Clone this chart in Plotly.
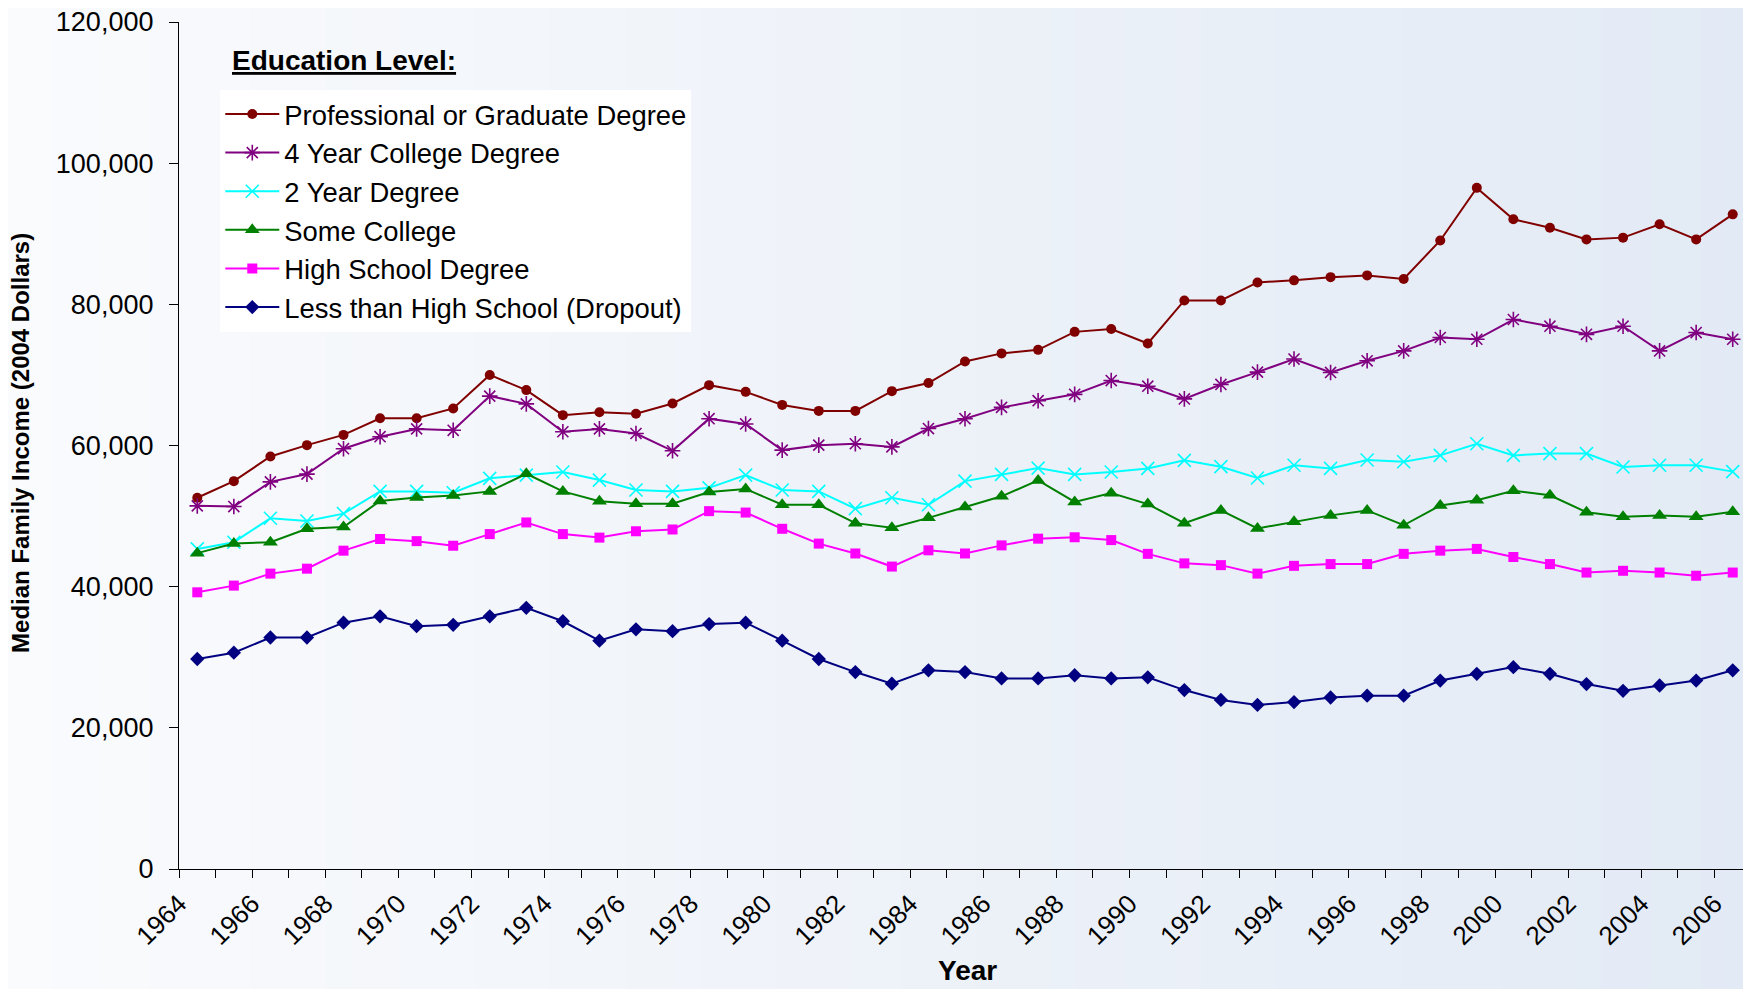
import plotly.graph_objects as go

years = list(range(1964, 2007))

prof = [52600, 54950, 58450, 60050, 61500, 63850, 63850, 65250, 70000, 67850, 64300, 64700, 64500, 65950, 68550, 67600,
        65750, 64900, 64900, 67700, 68850, 71900, 73050, 73550, 76100, 76500, 74450, 80550, 80550,
        83100, 83400, 83850, 84100, 83600, 89050, 96500, 92050, 90850, 89200, 89450, 91350, 89200, 92750]
four_year = [51450, 51350, 54850, 55950, 59550, 61250, 62350, 62150, 67000, 65900, 61950, 62350, 61700, 59250, 63800, 63050,
             59350, 60050, 60250, 59800, 62400, 63800, 65400, 66350, 67250, 69200, 68400, 66600, 68650,
             70400, 72250, 70350, 72000, 73400, 75300, 75050, 77850, 76900, 75750, 76900, 73400, 76000, 75050]
two_year = [45350, 46300, 49700, 49300, 50350, 53500, 53500, 53300, 55350, 55800, 56250, 55100, 53700, 53500, 54000, 55800,
            53700, 53500, 51050, 52600, 51600, 54950, 55900, 56800, 55900, 56250, 56750, 57900, 57000,
            55400, 57200, 56750, 57950, 57700, 58600, 60250, 58600, 58850, 58850, 56950, 57200, 57200, 56300]
some_college = [44750, 46100, 46300, 48200, 48450, 52150, 52650, 52900, 53500, 56000, 53500, 52100, 51750, 51750, 53400, 53850,
                51600, 51600, 49000, 48350, 49750, 51300, 52800, 55050, 52000, 53250, 51700, 49000, 50800,
                48250, 49200, 50100, 50800, 48700, 51500, 52250, 53600, 52950, 50550, 49900, 50100, 49900, 50600]
high_school = [39200, 40150, 41850, 42550, 45100, 46750, 46450, 45800, 47450, 49100, 47450, 46950, 47850, 48100, 50700, 50500,
               48200, 46100, 44700, 42850, 45150, 44700, 45850, 46800, 47000, 46600, 44650, 43300, 43050,
               41850, 42950, 43200, 43200, 44650, 45100, 45350, 44200, 43200, 42000, 42250, 42000, 41550, 42000]
dropout = [29750, 30650, 32800, 32800, 34900, 35800, 34400, 34600, 35800, 37000, 35100, 32350, 33950, 33700, 34700, 34900,
           32350, 29750, 27900, 26250, 28150, 27900, 27000, 27000, 27450, 27000, 27150, 25350, 23950,
           23250, 23650, 24300, 24550, 24550, 26700, 27650, 28600, 27650, 26200, 25250, 26000, 26700, 28150]

names = ["Professional or Graduate Degree", "4 Year College Degree", "2 Year Degree",
         "Some College", "High School Degree", "Less than High School (Dropout)"]
series_values = [prof, four_year, two_year, some_college, high_school, dropout]
tick_years = list(range(1964, 2007, 2))

styles = [
    dict(color="#800000", symbol="circle", size=10),
    dict(color="#800080", symbol="asterisk-open", size=13),
    dict(color="#00FFFF", symbol="x-thin-open", size=13),
    dict(color="#008000", symbol="triangle-up", size=13),
    dict(color="#FF00FF", symbol="square", size=10),
    dict(color="#000080", symbol="diamond", size=11),
]

FONT = "Liberation Sans, Arial, sans-serif"
OFF = 8                      # page body margin offset
PAGE_W, PAGE_H = 1751, 989
W, H = PAGE_W - OFF, PAGE_H - OFF
# plot area in page pixels
P_LEFT, P_TOP, P_RIGHT, P_BOTTOM = 178.7, 22.3, 1751, 869.5
ML = P_LEFT - OFF
MT = P_TOP - OFF
MR = (PAGE_W - P_RIGHT)
MB = H - (P_BOTTOM - OFF)
PW, PH = W - ML - MR, H - MT - MB


def px(page_x):
    return (page_x - P_LEFT) / PW


def py(page_y):
    return (P_BOTTOM - page_y) / PH


# x positions: each year's point sits midway between year tick marks
x_pos = [y + 0.5 for y in years]

fig = go.Figure()
for name, vals, st in zip(names, series_values, styles):
    open_sym = st["symbol"].endswith("open")
    fig.add_trace(go.Scatter(
        x=x_pos, y=vals, name=name, mode="lines+markers",
        line=dict(color=st["color"], width=2),
        marker=dict(symbol=st["symbol"], size=st["size"], color=st["color"],
                    line=dict(color=st["color"], width=1.6 if open_sym else 0)),
    ))

# background gradient (near white on the left, pale blue on the right)
shapes = []
N = 70
c0 = (250, 251, 253)
c1 = (226, 234, 245)
for i in range(N):
    x0p = PAGE_W * i / N
    x1p = PAGE_W * (i + 1) / N + 1
    t = (i + 0.5) / N
    c = tuple(round(c0[k] + (c1[k] - c0[k]) * t) for k in range(3))
    shapes.append(dict(
        type="rect", xref="paper", yref="paper", layer="below",
        x0=px(x0p), x1=px(x1p), y0=py(PAGE_H + 2), y1=py(-2),
        fillcolor="rgb(%d,%d,%d)" % c, line=dict(width=0),
    ))

annotations = [
    dict(text="<b><u>Education Level:</u></b>", xref="paper", yref="paper",
         x=px(230), y=py(61), xanchor="left", yanchor="middle", showarrow=False,
         font=dict(family=FONT, size=28, color="black")),
    dict(text="<b>Median Family Income (2004 Dollars)</b>", xref="paper", yref="paper",
         x=px(20), y=py(443), xanchor="center", yanchor="middle", textangle=-90,
         showarrow=False, font=dict(family=FONT, size=24, color="black")),
    dict(text="<b>Year</b>", xref="paper", yref="paper",
         x=px(967), y=py(971), xanchor="center", yanchor="middle",
         showarrow=False, font=dict(family=FONT, size=28, color="black")),
]

fig.update_layout(
    width=W, height=H,
    margin=dict(l=ML, r=MR, t=MT, b=MB, pad=0),
    paper_bgcolor="white", plot_bgcolor="rgba(0,0,0,0)",
    shapes=shapes, annotations=annotations,
    font=dict(family=FONT, color="black"),
    showlegend=True,
    legend=dict(x=px(220), y=py(90), xanchor="left", yanchor="top",
                bgcolor="white", borderwidth=0, itemwidth=54,
                font=dict(family=FONT, size=27.4, color="black"),
                tracegroupgap=0),
    xaxis=dict(range=[1964, 2007], tickmode="array", tickvals=tick_years,
               ticktext=[str(y) for y in tick_years], tickangle=-45,
               ticks="outside", ticklen=8, tickcolor="black", tickwidth=1,
               minor=dict(ticks="outside", ticklen=8, dtick=1, tick0=1964, tickcolor="black"),
               showline=True, linecolor="black", linewidth=1.3, showgrid=False, zeroline=False,
               ticklabeloverflow="allow",
               tickfont=dict(family=FONT, size=26, color="black"), automargin=False),
    yaxis=dict(range=[0, 120000], dtick=20000, tick0=0, tickformat=",",
               ticks="outside", ticklen=9, tickcolor="black", tickwidth=1,
               ticklabelstandoff=10, ticklabeloverflow="allow",
               showline=True, linecolor="black", linewidth=1.3, showgrid=False, zeroline=False,
               tickfont=dict(family=FONT, size=27, color="black"), automargin=False),
)

fig.write_html("out.html")
